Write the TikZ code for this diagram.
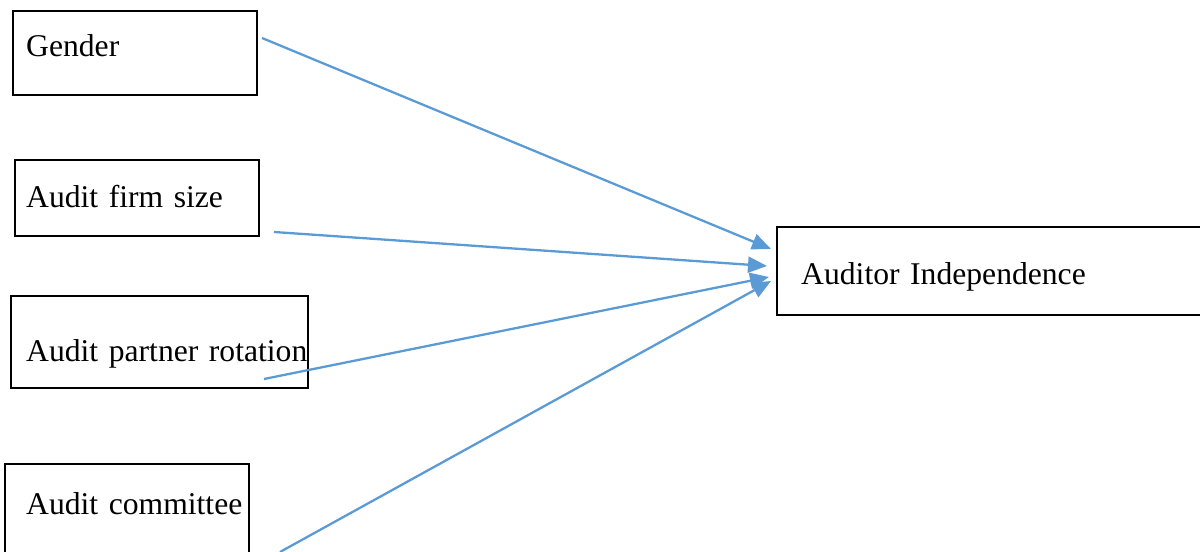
\documentclass[tikz,border=0pt]{standalone}
\usepackage{fontspec}
\setmainfont{Liberation Serif}
\usetikzlibrary{arrows.meta}
\definecolor{linkblue}{RGB}{91,155,213}
\begin{document}
\begin{tikzpicture}[
    factor/.style = {draw, line width=1.4pt, anchor=north west, inner xsep=0pt, inner ysep=0pt,
                     align=left, font=\fontsize{18}{22}\selectfont},
    link/.style = {draw=linkblue, line width=1.3pt, -{Triangle[length=0.38cm, width=0.32cm]}, fill=linkblue}
]
    \useasboundingbox (0,0) rectangle (24,11.04);
    \clip (0,0) rectangle (24,11.04);

    \node[factor, text width=4.88cm, text height=0.9cm, text depth=0.78cm] (gender) at (0.24,10.84) {\hspace*{0.26cm}Gender};
    \node[factor, text width=4.88cm, text height=0.94cm, text depth=0.58cm] (firmsize) at (0.28,7.86) {\hspace*{0.22cm}Audit firm size};
    \node[factor, text width=5.94cm, text height=1.3cm, text depth=0.54cm] (rotation) at (0.2,5.14) {\hspace*{0.3cm}Audit partner rotation};
    \node[factor, text width=4.88cm, text height=1.0cm, text depth=1.74cm] (committee) at (0.08,1.78) {\hspace*{0.42cm}Audit committee};
    \node[factor, text width=8.88cm, text height=1.14cm, text depth=0.62cm] (independence) at (15.52,6.52) {\hspace*{0.48cm}Auditor Independence};

    \coordinate (gender out) at (5.24,10.28);
    \coordinate (firmsize out) at (5.48,6.4);
    \coordinate (rotation out) at (5.28,3.46);
    \coordinate (committee out) at (5.6,0);
    \coordinate (in gender) at (15.42,6.06);
    \coordinate (in firmsize) at (15.34,5.72);
    \coordinate (in rotation) at (15.38,5.5);
    \coordinate (in committee) at (15.42,5.42);

    \draw[link] (gender out) -- (in gender);
    \draw[link] (firmsize out) -- (in firmsize);
    \draw[link] (rotation out) -- (in rotation);
    \draw[link] (committee out) -- (in committee);
\end{tikzpicture}
\end{document}
